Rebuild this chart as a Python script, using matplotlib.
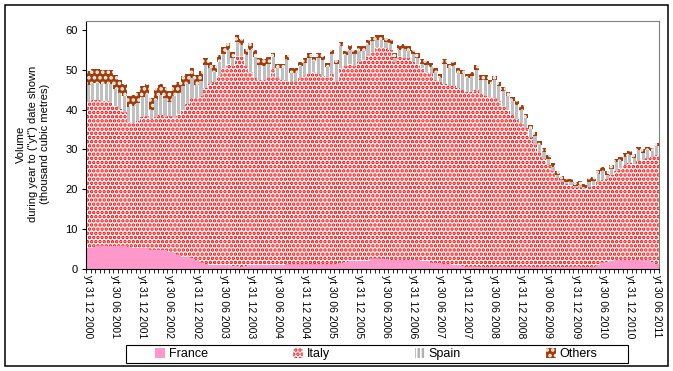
import matplotlib.pyplot as plt
from matplotlib.patches import Patch, Rectangle

plt.rcParams['font.family'] = ['Liberation Sans', 'DejaVu Sans']
plt.rcParams['hatch.linewidth'] = 1.7

# tick labels every 6 months (one bar per month, Dec 2000 .. Jun 2011)
tick_labels = [
    "yt 31 12 2000", "yt 30 06 2001", "yt 31 12 2001", "yt 30 06 2002",
    "yt 31 12 2002", "yt 30 06 2003", "yt 31 12 2003", "yt 30 06 2004",
    "yt 31 12 2004", "yt 30 06 2005", "yt 31 12 2005", "yt 30 06 2006",
    "yt 31 12 2006", "yt 30 06 2007", "yt 31 12 2007", "yt 30 06 2008",
    "yt 31 12 2008", "yt 30 06 2009", "yt 31 12 2009", "yt 30 06 2010",
    "yt 31 12 2010", "yt 30 06 2011",
]

# thousand cubic metres
france = [
    5.2, 5.2, 5.7, 5.7, 5.7, 5.7, 5.7, 5.7, 5.7, 5.5,
    5.2, 5.2, 5.2, 5.2, 4.8, 4.8, 4.8, 4.8, 4.3, 3.9,
    3.5, 3.1, 2.9, 2.7, 2.3, 1.6, 1.2, 1.0, 1.0, 1.0,
    0.9, 0.9, 0.7, 0.7, 0.4, 0.7, 0.9, 0.9, 0.9, 0.9,
    0.9, 0.9, 0.9, 0.9, 1.2, 1.2, 1.2, 1.2, 1.2, 1.2,
    1.2, 1.2, 1.2, 1.2, 1.2, 1.2, 1.4, 1.7, 1.9, 2.1,
    2.1, 2.1, 2.1, 2.5, 2.5, 2.5, 2.5, 2.3, 2.3, 2.3,
    2.3, 2.3, 2.3, 2.3, 2.0, 2.0, 1.5, 1.5, 1.5, 1.2,
    1.2, 1.0, 1.0, 0.8, 0.6, 0.6, 0.6, 0.6, 0.6, 0.6,
    0.6, 0.6, 0.6, 0.6, 0.6, 0.6, 0.6, 0.6, 0.6, 0.6,
    0.6, 0.6, 0.6, 0.6, 0.6, 0.6, 0.6, 0.6, 0.6, 0.6,
    0.6, 0.6, 0.6, 1.0, 1.4, 1.7, 2.0, 2.2, 2.2, 2.2,
    2.2, 2.2, 2.2, 2.2, 2.2, 1.7, 1.2,
]
italy = [
    36.8, 37.3, 36.8, 36.5, 36.5, 36.1, 35.3, 34.5, 33.8, 31.3,
    31.4, 32.0, 32.8, 33.1, 32.7, 33.4, 33.7, 33.2, 34.0, 33.9,
    35.3, 36.9, 38.6, 40.3, 40.5, 41.9, 44.3, 45.5, 45.8, 47.5,
    49.6, 50.6, 50.3, 52.8, 53.1, 50.3, 48.6, 47.1, 46.6, 46.6,
    47.1, 49.3, 47.1, 46.6, 46.0, 45.6, 45.8, 46.8, 47.3, 47.8,
    48.3, 47.8, 47.3, 46.6, 47.8, 45.8, 49.1, 49.3, 49.6, 48.9,
    49.9, 50.4, 51.4, 52.0, 53.3, 53.3, 53.0, 52.7, 49.7, 51.2,
    50.7, 50.5, 49.7, 49.2, 48.5, 47.5, 47.5, 46.0, 45.3, 45.3,
    44.8, 45.0, 44.5, 44.2, 43.9, 43.9, 44.4, 43.4, 42.9, 42.6,
    42.2, 41.6, 40.4, 39.2, 38.0, 36.9, 35.9, 34.7, 32.4, 30.4,
    28.4, 26.9, 25.4, 23.9, 22.2, 21.2, 20.7, 20.4, 20.0, 20.0,
    19.4, 19.9, 20.4, 20.8, 20.9, 20.8, 21.5, 22.3, 23.1, 23.8,
    24.3, 24.1, 24.8, 25.1, 25.6, 26.3, 27.4,
]
spain = [
    4.1, 4.2, 4.2, 4.3, 4.3, 4.7, 4.2, 4.0, 3.9, 3.8,
    4.2, 4.4, 5.1, 5.3, 2.5, 4.3, 5.2, 4.9, 3.6, 5.5,
    5.4, 5.8, 5.0, 4.8, 3.3, 3.7, 5.6, 3.8, 2.6, 3.4,
    3.5, 3.4, 1.8, 3.4, 2.6, 2.6, 5.5, 5.2, 3.6, 3.4,
    3.5, 2.9, 2.4, 2.9, 5.3, 2.4, 2.2, 2.9, 3.2, 4.0,
    2.6, 4.0, 3.8, 2.8, 4.8, 4.3, 5.4, 2.6, 3.5, 2.9,
    2.8, 2.3, 2.8, 2.6, 1.7, 1.7, 1.4, 1.5, 1.0, 1.5,
    2.3, 2.0, 1.9, 1.5, 1.0, 1.6, 1.6, 1.7, 1.1, 5.0,
    4.4, 4.9, 3.7, 3.9, 3.3, 3.8, 5.0, 3.5, 4.0, 3.2,
    4.5, 3.6, 3.6, 3.5, 3.5, 3.6, 3.5, 2.6, 2.0, 2.3,
    2.2, 1.9, 1.7, 1.2, 0.9, 0.6, 0.4, 0.7, 0.3, 0.5,
    0.4, 1.3, 1.1, 2.1, 2.3, 1.2, 1.7, 2.3, 1.9, 2.2,
    2.2, 1.6, 2.8, 1.8, 2.0, 1.5, 2.2,
]
others = [
    3.5, 3.5, 3.5, 3.5, 3.5, 3.5, 3.5, 3.3, 3.0, 2.8,
    2.8, 2.8, 2.8, 2.8, 2.8, 2.8, 2.8, 2.8, 2.8, 2.8,
    2.8, 2.5, 2.5, 2.5, 2.5, 2.5, 1.7, 1.7, 1.7, 1.7,
    1.7, 1.7, 1.7, 1.7, 1.7, 1.7, 1.7, 1.7, 1.7, 1.7,
    1.7, 1.1, 1.1, 1.1, 1.1, 1.1, 1.1, 1.1, 1.1, 1.1,
    1.1, 1.1, 1.1, 1.1, 1.1, 1.1, 1.1, 1.1, 1.1, 1.1,
    1.1, 1.1, 1.1, 1.1, 1.1, 1.1, 1.1, 1.1, 1.1, 1.1,
    1.1, 1.1, 1.1, 1.1, 1.1, 1.1, 1.1, 1.1, 1.1, 1.1,
    1.1, 1.1, 1.1, 1.1, 1.1, 1.1, 1.1, 1.1, 1.1, 1.1,
    1.1, 1.1, 1.1, 1.1, 1.1, 1.1, 1.1, 1.1, 1.1, 1.1,
    1.0, 0.9, 0.9, 0.9, 0.9, 0.9, 0.9, 0.9, 0.9, 0.9,
    0.9, 0.9, 0.9, 0.9, 0.9, 0.9, 0.9, 0.9, 0.9, 0.9,
    0.9, 0.9, 0.9, 0.9, 0.9, 0.9, 0.9,
]

x = list(range(len(france)))
bottom_spain = [f + i for f, i in zip(france, italy)]
bottom_others = [b + s for b, s in zip(bottom_spain, spain)]

fig = plt.figure(figsize=(6.73, 3.71), dpi=100)
ax = fig.add_axes([86 / 673, 1 - 269 / 371, 573 / 673, 248 / 371])

ax.bar(x, france, width=1.0, color="#FF99CC", linewidth=0, antialiased=False)
ax.bar(x, italy, width=1.0, bottom=france, facecolor="white", edgecolor="#FF0000",
       hatch="....", linewidth=0, antialiased=False)
ax.bar(x, spain, width=0.7, bottom=bottom_spain, color="#C0C0C0", linewidth=0)
ax.bar(x, others, width=1.0, bottom=bottom_others, facecolor="#A33C0A", edgecolor="white",
       hatch="...", linewidth=0, antialiased=False)

ax.set_xlim(-0.5, len(x) - 0.5)
ax.set_ylim(0, 62.2)
ax.set_yticks(range(0, 61, 10))
ax.tick_params(axis="y", direction="out", length=3, pad=3, labelsize=8)

ax.set_xticks(range(0, len(x), 6))
ax.set_xticklabels(tick_labels, rotation=-90, fontsize=7.5, va="top", ha="center")
ax.set_xticks([i - 0.5 for i in range(len(x) + 1)], minor=True)
ax.tick_params(axis="x", which="major", length=0, pad=4)
ax.tick_params(axis="x", which="minor", direction="out", length=3)

ax.spines["top"].set_color("#808080")
ax.spines["right"].set_color("#808080")

fig.text(33 / 673, 1 - 144 / 371,
         "Volume\nduring year to (\"yt\") date shown\n(thousand cubic metres)",
         rotation=90, ha="center", va="center", multialignment="center", fontsize=8)

# legend box and entries
fig.patches.append(Rectangle((126 / 673, 1 - 363 / 371), 502 / 673, 18 / 371,
                             transform=fig.transFigure, fill=False,
                             edgecolor="black", linewidth=0.8))
handles = [
    Patch(facecolor="#FF99CC", linewidth=0),
    Patch(facecolor="white", edgecolor="#FF0000", hatch="....", linewidth=0),
    Patch(facecolor="white", edgecolor="#B0B0B0", hatch="||||", linewidth=0),
    Patch(facecolor="#A33C0A", edgecolor="white", hatch="...", linewidth=0),
]
fig.legend(handles, ["France", "Italy", "Spain", "Others"], loc="center",
           bbox_to_anchor=(376 / 673, 1 - 354 / 371), ncol=4, frameon=False,
           fontsize=9, handlelength=0.8, handleheight=0.8, handletextpad=0.3,
           columnspacing=6.8, borderpad=0)

# outer frame
fig.patches.append(Rectangle((4.5 / 673, 5 / 371), 663 / 673, 361.5 / 371,
                             transform=fig.transFigure, fill=False,
                             edgecolor="black", linewidth=1.1))

fig.savefig("out.png", dpi=100)
